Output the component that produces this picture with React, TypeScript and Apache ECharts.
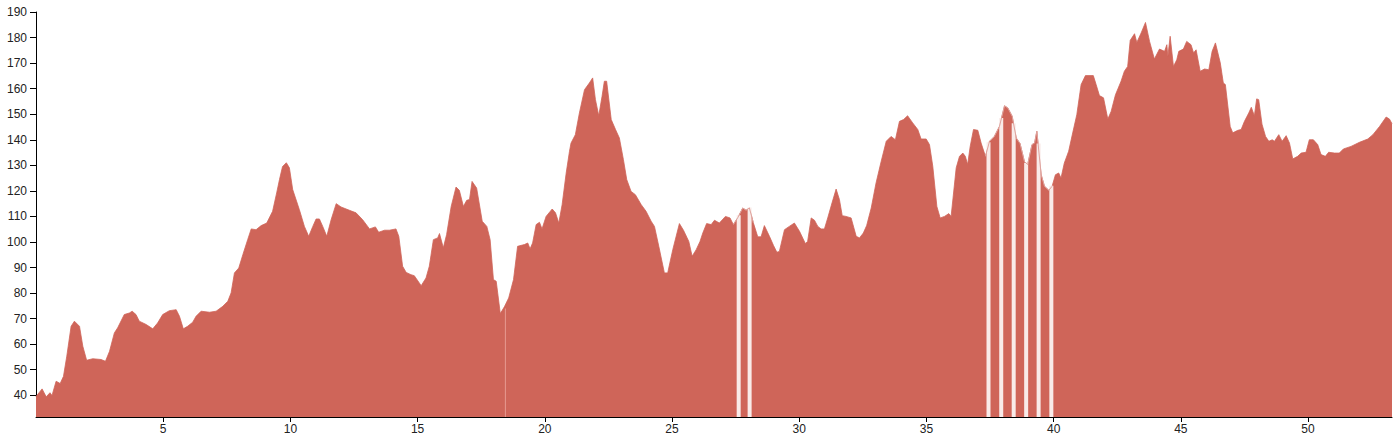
import React, { useEffect, useRef } from "react";
import * as echarts from "echarts";

const distKm = [
  0.0, 0.24, 0.4, 0.55, 0.63, 0.79, 0.95, 1.08, 1.21, 1.38, 1.51, 1.71, 1.84, 1.99, 2.23, 2.56, 2.73, 2.89, 3.08, 3.21,
  3.47, 3.67, 3.78, 3.93, 4.06, 4.33, 4.59, 4.78, 4.98, 5.24, 5.51, 5.64, 5.79, 5.96, 6.16, 6.29, 6.49, 6.82, 7.08, 7.34,
  7.54, 7.67, 7.8, 7.97, 8.13, 8.32, 8.46, 8.65, 8.85, 9.07, 9.3, 9.46, 9.57, 9.69, 9.84, 9.96, 10.09, 10.35, 10.55, 10.72,
  10.88, 11.01, 11.14, 11.27, 11.43, 11.6, 11.8, 11.99, 12.32, 12.58, 12.84, 13.11, 13.34, 13.47, 13.7, 13.89, 14.15, 14.26, 14.41, 14.55,
  14.74, 14.87, 15.14, 15.33, 15.46, 15.62, 15.79, 15.86, 16.01, 16.14, 16.32, 16.51, 16.64, 16.8, 16.93, 17.04, 17.14, 17.32, 17.54, 17.72,
  17.85, 17.98, 18.09, 18.25, 18.41, 18.58, 18.77, 18.93, 19.2, 19.33, 19.42, 19.52, 19.66, 19.79, 19.89, 20.05, 20.29, 20.42, 20.55, 20.68,
  20.84, 20.97, 21.03, 21.2, 21.36, 21.56, 21.75, 21.88, 21.99, 22.12, 22.25, 22.34, 22.43, 22.61, 22.78, 22.93, 23.09, 23.22, 23.39, 23.56,
  23.79, 23.98, 24.18, 24.31, 24.48, 24.7, 24.83, 25.03, 25.29, 25.45, 25.66, 25.79, 25.95, 26.1, 26.21, 26.36, 26.54, 26.67, 26.86, 27.1,
  27.28, 27.41, 27.58, 27.78, 27.91, 28.04, 28.2, 28.37, 28.5, 28.63, 28.83, 28.99, 29.12, 29.22, 29.42, 29.61, 29.81, 30.01, 30.24, 30.33,
  30.47, 30.6, 30.73, 30.86, 30.99, 31.12, 31.29, 31.45, 31.58, 31.69, 31.84, 32.04, 32.24, 32.37, 32.52, 32.65, 32.83, 33.02, 33.22, 33.42,
  33.61, 33.78, 33.94, 34.1, 34.26, 34.46, 34.66, 34.79, 34.99, 35.12, 35.25, 35.41, 35.54, 35.71, 35.88, 35.97, 36.17, 36.3, 36.43, 36.53,
  36.62, 36.72, 36.85, 37.02, 37.15, 37.32, 37.48, 37.67, 37.87, 38.07, 38.2, 38.37, 38.53, 38.68, 38.85, 38.98, 39.15, 39.25, 39.34, 39.51,
  39.64, 39.81, 39.94, 40.07, 40.2, 40.29, 40.42, 40.59, 40.75, 40.91, 41.08, 41.25, 41.56, 41.67, 41.8, 41.96, 42.13, 42.26, 42.43, 42.65,
  42.78, 42.91, 43.01, 43.18, 43.27, 43.44, 43.61, 43.77, 43.96, 44.16, 44.36, 44.45, 44.49, 44.58, 44.71, 44.84, 44.92, 45.1, 45.23, 45.4,
  45.5, 45.6, 45.76, 45.93, 46.1, 46.23, 46.36, 46.55, 46.67, 46.75, 46.94, 47.04, 47.24, 47.37, 47.5, 47.67, 47.77, 47.89, 47.98, 48.06,
  48.19, 48.33, 48.46, 48.59, 48.68, 48.85, 48.98, 49.14, 49.27, 49.4, 49.59, 49.73, 49.92, 50.05, 50.21, 50.38, 50.51, 50.68, 50.81, 51.04,
  51.23, 51.39, 51.69, 52.02, 52.35, 52.55, 52.81, 53.07, 53.2, 53.3,
];

const elevation = [
  39.5, 42.5, 39.4, 41.0, 39.9, 45.5, 44.6, 47.4, 55.3, 67.0, 69.0, 67.0, 59.2, 53.7, 54.3, 54.0, 53.3, 57.2, 64.4, 66.4,
  71.6, 72.2, 72.9, 71.6, 69.0, 67.7, 66.0, 68.3, 71.6, 73.1, 73.5, 70.9, 66.0, 67.0, 68.6, 70.9, 72.9, 72.5, 72.9, 74.8,
  76.8, 80.1, 87.9, 89.8, 95.0, 100.9, 105.1, 104.8, 106.4, 107.4, 112.0, 119.2, 124.4, 129.5, 131.0, 129.0, 120.5, 112.7, 106.1, 102.2,
  106.1, 109.0, 109.0, 106.1, 102.2, 108.7, 115.0, 113.7, 112.4, 111.4, 108.7, 105.1, 105.9, 103.8, 104.6, 104.6, 105.1, 102.2, 90.5, 88.1,
  87.2, 86.8, 82.9, 85.9, 90.5, 100.9, 101.6, 103.3, 97.7, 102.9, 113.9, 121.5, 120.2, 113.9, 116.3, 116.6, 123.7, 121.1, 108.1, 106.1,
  100.9, 85.3, 84.6, 72.0, 74.6, 78.1, 85.3, 98.3, 99.0, 99.6, 97.3, 99.6, 106.8, 107.7, 105.1, 110.0, 112.9, 111.4, 107.4, 114.6,
  127.0, 135.5, 138.7, 142.0, 150.5, 159.6, 162.2, 164.2, 155.7, 149.4, 157.0, 162.9, 162.9, 147.9, 144.0, 140.7, 132.2, 124.4, 119.8, 118.5,
  114.6, 112.0, 108.1, 106.1, 98.3, 87.9, 87.9, 97.0, 107.2, 104.6, 100.2, 94.4, 97.0, 100.2, 103.5, 107.2, 106.8, 108.5, 107.4, 110.0,
  109.4, 106.8, 109.4, 113.3, 112.4, 113.3, 107.4, 102.0, 102.0, 106.4, 102.2, 98.6, 96.0, 96.3, 104.8, 106.1, 107.4, 104.2, 99.4, 100.2,
  109.4, 108.5, 106.1, 105.1, 105.1, 109.4, 115.3, 120.7, 116.6, 110.3, 110.0, 109.4, 102.2, 101.6, 103.5, 106.4, 113.3, 123.1, 131.5, 139.4,
  141.3, 140.0, 147.2, 147.9, 149.4, 146.6, 144.0, 140.3, 140.3, 138.1, 129.6, 113.9, 109.4, 110.0, 111.1, 110.0, 129.0, 133.5, 134.8, 133.5,
  130.3, 137.4, 144.0, 143.7, 138.7, 133.5, 139.4, 141.3, 145.2, 153.3, 152.4, 149.2, 140.7, 138.5, 131.5, 130.3, 138.1, 138.7, 143.3, 126.3,
  121.8, 120.2, 121.8, 126.3, 127.0, 125.0, 130.9, 135.5, 142.7, 149.8, 161.6, 165.1, 165.1, 161.6, 157.3, 156.4, 148.1, 151.1, 157.6, 162.9,
  166.8, 168.7, 178.9, 181.5, 178.1, 181.8, 185.9, 178.5, 171.6, 175.5, 174.6, 177.2, 172.6, 180.5, 168.7, 171.3, 174.6, 175.5, 178.5, 177.2,
  174.0, 175.2, 166.8, 167.7, 167.4, 174.6, 177.9, 170.1, 162.2, 161.6, 145.2, 142.7, 143.7, 144.0, 147.2, 150.5, 152.7, 149.4, 156.0, 155.7,
  146.1, 141.3, 139.4, 140.0, 139.4, 142.0, 139.4, 141.6, 138.7, 132.5, 133.5, 134.8, 135.1, 140.0, 140.0, 138.1, 134.2, 133.5, 135.1, 134.8,
  134.8, 136.4, 137.4, 139.0, 140.3, 142.0, 145.2, 148.9, 148.1, 146.3,
];

const xTicks = [5, 10, 15, 20, 25, 30, 35, 40, 45, 50];
const yTicks = [40, 50, 60, 70, 80, 90, 100, 110, 120, 130, 140, 150, 160, 170, 180, 190];

// missing-data markers
const thinGapKm = [18.45];
const thinGapElev = [74.0];
const gapKm = [27.62, 28.05, 37.44, 37.94, 38.43, 38.92, 39.41, 39.91];
const gapElev = [110.5, 113.5, 139.0, 148.5, 146.5, 131.0, 138.5, 122.0];
const outlineRanges = [
  [27.3, 28.35],
  [37.2, 40.05],
];

const X_MIN = 0;
const X_MAX = 53.3;
const Y_MIN = 31.5;
const Y_MAX = 190;

const FILL = "#cf6559";

function gapRenderer(width: number, fill: string) {
  return (params: any, api: any) => {
    const x = api.value(0);
    const y = api.value(1);
    const top = api.coord([x, y]);
    const bottom = api.coord([x, Y_MIN]);
    return {
      type: "rect",
      shape: { x: top[0] - width / 2, y: top[1], width, height: bottom[1] - top[1] },
      style: { fill },
    };
  };
}

export default function App() {
  const ref = useRef<HTMLDivElement>(null);

  useEffect(() => {
    document.body.style.margin = "0";
    if (!ref.current) return;
    const chart = echarts.init(ref.current, null, { renderer: "svg" });

    const areaData = distKm.map((d, i) => [d, elevation[i]]);
    const outlineData = distKm.map((d, i) =>
      outlineRanges.some(([a, b]) => d >= a && d <= b) ? [d, elevation[i]] : [d, null]
    );
    const gapData = gapKm.map((d, i) => [d, gapElev[i]]);
    const thinGapData = thinGapKm.map((d, i) => [d, thinGapElev[i]]);

    const labelStyle = {
      color: "#222",
      fontSize: 12,
      fontFamily: "'Liberation Sans', Arial, sans-serif",
    };

    chart.setOption({
      animation: false,
      grid: { left: 36, right: 3, top: 12, bottom: 23, containLabel: false },
      xAxis: {
        type: "value",
        min: X_MIN,
        max: X_MAX,
        splitLine: { show: false },
        axisLine: { show: true, onZero: false, lineStyle: { color: "#000", width: 1 } },
        axisTick: { show: true, length: 5, customValues: xTicks, lineStyle: { color: "#000" } },
        axisLabel: { ...labelStyle, margin: 6, customValues: xTicks },
      },
      yAxis: {
        type: "value",
        min: Y_MIN,
        max: Y_MAX,
        splitLine: { show: false },
        axisLine: { show: true, lineStyle: { color: "#000", width: 1 } },
        axisTick: { show: true, length: 6, customValues: yTicks, lineStyle: { color: "#000" } },
        axisLabel: { ...labelStyle, margin: 9, customValues: yTicks },
      },
      series: [
        {
          type: "line",
          data: areaData,
          showSymbol: false,
          symbol: "none",
          lineStyle: { width: 0.8, color: FILL },
          areaStyle: { color: FILL, opacity: 1, origin: "start" },
          z: 1,
          silent: true,
        },
        {
          type: "custom",
          data: gapData,
          renderItem: gapRenderer(4, "#f9ebe9"),
          z: 2,
          silent: true,
        },
        {
          type: "custom",
          data: thinGapData,
          renderItem: gapRenderer(1, "#e79a92"),
          z: 2,
          silent: true,
        },
        {
          type: "line",
          data: outlineData,
          showSymbol: false,
          symbol: "none",
          connectNulls: false,
          lineStyle: { width: 1, color: "#dea39d" },
          z: 3,
          silent: true,
        },
      ],
    });

    return () => chart.dispose();
  }, []);

  return <div ref={ref} style={{ width: 1395, height: 440 }} />;
}
